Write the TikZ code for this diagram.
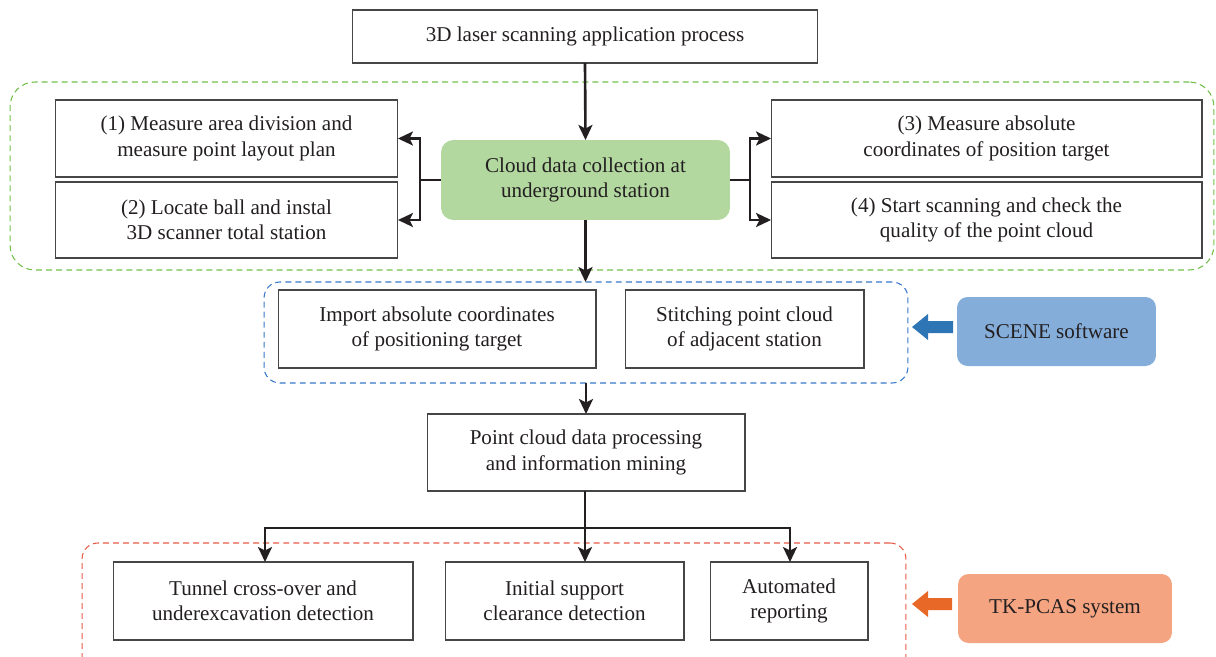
\documentclass[tikz,border=0pt]{standalone}
\usepackage{fontspec}
\setmainfont{Liberation Serif}
\usepackage{xcolor}
\usetikzlibrary{arrows.meta, positioning, calc}
\definecolor{inkgray}{RGB}{35,31,32}
\definecolor{boxline}{RGB}{70,70,70}
\definecolor{cloudgreen}{RGB}{178,216,160}
\definecolor{grpgreen}{RGB}{112,192,72}
\definecolor{grpblue}{RGB}{55,120,200}
\definecolor{grpred}{RGB}{232,90,70}
\definecolor{scenefill}{RGB}{132,173,218}
\definecolor{scenearrow}{RGB}{46,117,182}
\definecolor{pcasfill}{RGB}{244,164,128}
\definecolor{pcasarrow}{RGB}{232,104,40}
\tikzset{
  stepbox/.style={rectangle, draw=boxline, fill=white, line width=0.6pt, align=center, inner sep=0pt, outer sep=0pt, text=inkgray, font=\fontsize{12}{14.5}\selectfont},
  cloudbox/.style={rectangle, rounded corners=7pt, fill=cloudgreen, align=center, inner sep=0pt, outer sep=0pt, text=inkgray, font=\fontsize{12}{14.5}\selectfont},
  toolbox/.style={rectangle, rounded corners=6pt, align=center, inner sep=0pt, outer sep=0pt, text=inkgray, font=\fontsize{12}{14.5}\selectfont},
  grpbox/.style={rectangle, dashed, dash pattern=on 3.4pt off 2.3pt, line width=0.6pt, inner sep=0pt, outer sep=0pt},
  arrow/.style={-{Stealth[length=3mm, width=2.8mm, inset=0.7mm]}, line width=1.5pt, draw=inkgray},
  branch/.style={line width=1.5pt, draw=inkgray},
}
\begin{document}
\begin{tikzpicture}[x=0.02cm, y=-0.02cm]
\useasboundingbox (0,0) rectangle (1216,656);
% dashed groups
\node (greengrp) [grpbox, draw=grpgreen, rounded corners=14pt, minimum width=24.08cm, minimum height=3.76cm] at (612,176) {};
\node (bluegrp) [grpbox, draw=grpblue, rounded corners=9pt, minimum width=12.88cm, minimum height=2.02cm] at (586,332.5) {};
\node (redgrp) [grpbox, draw=grpred, rounded corners=9pt, minimum width=16.48cm, minimum height=2.58cm] at (494,607.5) {};
% steps
\node (top) [stepbox, minimum width=9.32cm, minimum height=1.06cm] at (585,36.5) {3D laser scanning application process};
\node (green) [cloudbox, minimum width=5.78cm, minimum height=1.60cm] at (585.5,180) {Cloud data collection at\\underground station};
\node (b1) [stepbox, minimum width=6.86cm, minimum height=1.54cm] at (226.5,138.5) {(1) Measure area division and\\measure point layout plan};
\node (b2) [stepbox, minimum width=6.86cm, minimum height=1.52cm] at (226.5,220) {(2) Locate ball and instal\\3D scanner total station};
\node (b3) [stepbox, minimum width=8.62cm, minimum height=1.54cm] at (986.5,138.5) {(3) Measure absolute\\coordinates of position target};
\node (b4) [stepbox, minimum width=8.62cm, minimum height=1.52cm] at (986.5,220) {(4) Start scanning and check the\\quality of the point cloud};
\node (imp) [stepbox, minimum width=6.36cm, minimum height=1.56cm] at (437,329) {Import absolute coordinates\\of positioning target};
\node (sti) [stepbox, minimum width=4.78cm, minimum height=1.56cm] at (744.5,329) {Stitching point cloud\\of adjacent station};
\node (scene) [toolbox, fill=scenefill, minimum width=3.98cm, minimum height=1.38cm] at (1056.5,331.5) {SCENE software};
\node (pc) [stepbox, minimum width=6.36cm, minimum height=1.54cm] at (586,452.5) {Point cloud data processing\\and information mining};
\node (t1) [stepbox, minimum width=6.00cm, minimum height=1.56cm] at (263,601) {Tunnel cross-over and\\underexcavation detection};
\node (t2) [stepbox, minimum width=4.78cm, minimum height=1.56cm] at (564.5,601) {Initial support\\clearance detection};
\node (t3) [stepbox, minimum width=3.16cm, minimum height=1.56cm] at (789,601) {Automated\\reporting};
\node (tk) [toolbox, fill=pcasfill, minimum width=4.28cm, minimum height=1.38cm] at (1065,608.5) {TK-PCAS system};
% junctions
\coordinate (jl) at (420,180);
\coordinate (jr) at (750,180);
\coordinate (jb) at (585,528);
% connectors
\draw[arrow] (top.south) -- (green.north);
\draw[branch] (green.west) -- (jl);
\draw[arrow] (jl) |- (b1.east);
\draw[arrow] (jl) |- (b2.east);
\draw[branch] (green.east) -- (jr);
\draw[arrow] (jr) |- (b3.west);
\draw[arrow] (jr) |- (b4.west);
\draw[arrow] (green.south) -- (green.south |- bluegrp.north);
\draw[arrow] (bluegrp.south -| pc.north) -- (pc.north);
\draw[branch] (pc.south -| jb) -- (jb);
\draw[arrow] (jb) -| ($(t1.north)+(2,0)$);
\draw[arrow] (jb) -- (jb |- t2.north);
\draw[arrow] (jb) -| ($(t3.north)+(1,0)$);
% block arrows
\fill[scenearrow] (912,327) -- (928,314) -- (928,321) -- (953,321) -- (953,333) -- (928,333) -- (928,340) -- cycle;
\fill[pcasarrow] (912,604) -- (928,591) -- (928,598) -- (952,598) -- (952,610) -- (928,610) -- (928,617) -- cycle;
\end{tikzpicture}
\end{document}
